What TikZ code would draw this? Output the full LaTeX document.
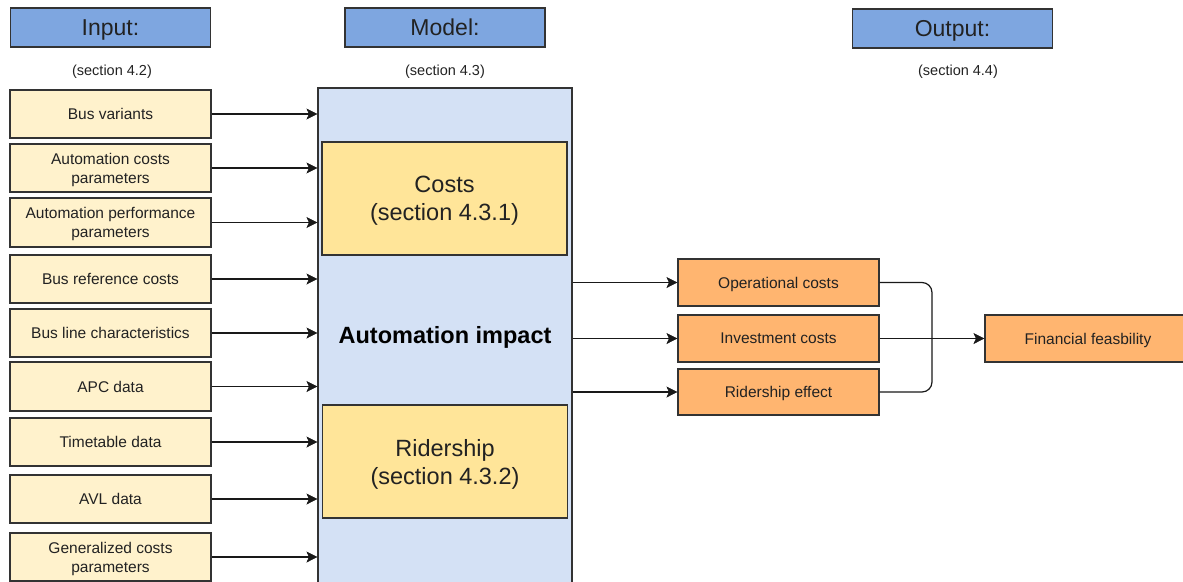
\documentclass[tikz,border=0pt]{standalone}
\usepackage{fontspec}
\setmainfont{Liberation Sans}
\usetikzlibrary{arrows.meta}

\definecolor{hdrblue}{HTML}{7EA6E0}
\definecolor{inyellow}{HTML}{FFF2CC}
\definecolor{subyellow}{HTML}{FFE599}
\definecolor{modelblue}{HTML}{D4E1F5}
\definecolor{outorange}{HTML}{FFB570}
\definecolor{edgegray}{HTML}{333333}
\definecolor{txt}{HTML}{222222}

\tikzset{
  box/.style={draw=edgegray, line width=1.1pt, rectangle, align=center,
    text=txt, inner sep=2pt, text depth=0pt},
  header/.style={box, fill=hdrblue, minimum width=200pt, minimum height=39pt,
    font=\fontsize{23}{28}\selectfont},
  sectxt/.style={text=txt, text depth=0pt, font=\fontsize{14.5}{18}\selectfont},
  inbox/.style={box, fill=inyellow, minimum width=201pt, minimum height=48pt,
    font=\fontsize{15.5}{19}\selectfont},
  subbox/.style={box, fill=subyellow, minimum width=245pt, minimum height=113pt,
    font=\fontsize{23.5}{28}\selectfont},
  outbox/.style={box, fill=outorange, minimum width=201pt, minimum height=47pt,
    font=\fontsize{15.5}{19}\selectfont},
  link/.style={draw=black!90, line width=1.2pt,
    -{Stealth[length=11pt, width=11pt, inset=2.5pt, line width=0.6pt]}},
  plainlink/.style={draw=black!90, line width=1.2pt},
}

\begin{document}
\begin{tikzpicture}[x=1pt, y=-1pt]
\useasboundingbox (0,0) rectangle (1183,581);
\clip (0,0) rectangle (1183,581);

% column headers and section references
\node[header] (hin)  at (110.5, 27.5) {Input:};
\node[header] (hmod) at (445, 27.5) {Model:};
\node[header] (hout) at (952.5, 28.5) {Output:};
\node[sectxt] (sin)  at (112, 70) {(section 4.2)};
\node[sectxt] (smod) at (445, 70) {(section 4.3)};
\node[sectxt] (sout) at (958, 70) {(section 4.4)};

% model block with its two sub-models
\node[box, fill=modelblue, minimum width=254pt, minimum height=560pt]
  (model) at (445, 368) {};
\node[subbox] (costs) at (444.5, 198.5) {Costs\\(section 4.3.1)};
\node[subbox] (rider) at (445, 461.5) {Ridership\\(section 4.3.2)};
\node[text=black, text depth=0pt, font=\bfseries\fontsize{23.5}{28}\selectfont]
  (impact) at (445, 335) {Automation impact};

% inputs
\node[inbox] (in1) at (110.5, 114) {Bus variants};
\node[inbox] (in2) at (110.5, 168) {Automation costs\\parameters};
\node[inbox, minimum height=49pt] (in3) at (110.5, 222.5) {Automation performance\\parameters};
\node[inbox] (in4) at (110.5, 279) {Bus reference costs};
\node[inbox] (in5) at (110.5, 333) {Bus line characteristics};
\node[inbox, minimum height=49pt] (in6) at (110.5, 386.5) {APC data};
\node[inbox] (in7) at (110.5, 442) {Timetable data};
\node[inbox] (in8) at (110.5, 499) {AVL data};
\node[inbox] (in9) at (110.5, 557) {Generalized costs\\parameters};

\foreach \i in {1,...,9}
  \draw[link] (in\i.east) -- (in\i.east -| model.west);

% outputs
\node[outbox] (out1) at (778.5, 282.5) {Operational costs};
\node[outbox] (out2) at (778.5, 338.5) {Investment costs};
\node[outbox, minimum height=46pt] (out3) at (778.5, 392) {Ridership effect};
\node[outbox, minimum width=206pt] (fin) at (1088, 338.5) {Financial feasbility};

\foreach \i in {1,2,3}
  \draw[link] (model.east |- out\i.west) -- (out\i.west);

% operational costs and ridership effect joined beside the investment link
\coordinate (jx) at (932, 338.5);
\draw[plainlink, rounded corners=10pt]
  (out1.east) -- (out1.east -| jx) -- (out3.east -| jx) -- (out3.east);
\draw[link] (out2.east) -- (fin.west);
\end{tikzpicture}
\end{document}
